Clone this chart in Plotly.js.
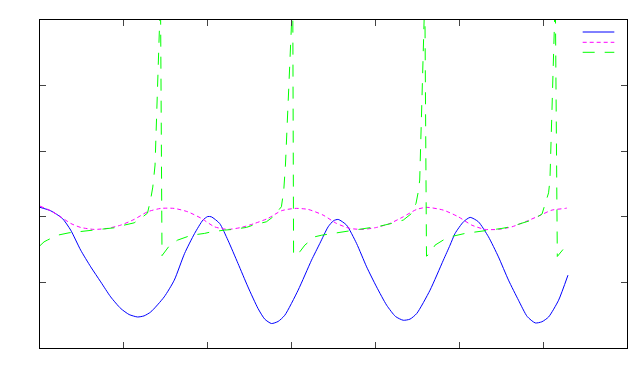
<!DOCTYPE html>
<html>
<head>
<meta charset="utf-8">
<script src="https://cdn.plot.ly/plotly-3.0.1.min.js"></script>
<style>
  html, body { margin: 0; padding: 0; background: #fff; }
  #plot { width: 638px; height: 384px; }
</style>
</head>
<body>
<div id="plot"></div>
<script>
// solid blue curve
var blueX = [0.0, 0.127, 0.266, 0.366, 0.485, 0.605, 0.724, 0.843, 0.963, 1.063, 1.163, 1.241, 1.321, 1.481, 1.601,
             1.724, 1.844, 1.943, 2.000, 2.043, 2.142, 2.241, 2.361, 2.480, 2.600, 2.680, 2.760, 2.840, 2.919, 3.078, 3.238,
             3.337, 3.436, 3.500, 3.556, 3.656, 3.775, 3.895, 4.014, 4.134, 4.240, 4.332, 4.412, 4.492, 4.651, 4.810, 4.890,
             4.950, 5.050, 5.130, 5.228, 5.348, 5.467, 5.587, 5.706, 5.810, 5.906, 5.985, 6.065, 6.184, 6.296];
var blueY = [0.144, 0.092, -0.024, -0.203, -0.508, -0.763, -0.992, -1.221, -1.398, -1.490, -1.527, -1.510, -1.450, -1.221, -0.966,
             -0.559, -0.253, -0.050, 0.004, 0.000, -0.101, -0.356, -0.711, -1.069, -1.398, -1.560, -1.627, -1.595, -1.501, -1.119, -0.661,
             -0.406, -0.153, -0.060, -0.040, -0.127, -0.406, -0.763, -1.069, -1.348, -1.520, -1.577, -1.560, -1.475, -1.119, -0.661, -0.432,
             -0.253, -0.076, -0.009, -0.076, -0.305, -0.611, -0.966, -1.272, -1.520, -1.618, -1.600, -1.527, -1.272, -0.890];

// short-dash magenta curve
var magX = [0.0, 0.127, 0.246, 0.366, 0.485, 0.645, 0.804, 0.963, 1.123, 1.282, 1.441, 1.601, 1.763,
            1.924, 2.082, 2.241, 2.401, 2.560, 2.719, 2.879, 3.038, 3.197, 3.376, 3.536, 3.695, 3.854,
            4.014, 4.173, 4.332, 4.492, 4.612, 4.810, 4.989, 5.149, 5.308, 5.467, 5.627, 5.786, 5.945,
            6.105, 6.264, 6.282];
var magY = [0.163, 0.092, 0.000, -0.101, -0.162, -0.192, -0.177, -0.127, -0.040, 0.076, 0.128, 0.128, 0.076,
            -0.024, -0.153, -0.192, -0.162, -0.101, -0.024, 0.092, 0.128, 0.113, 0.026, -0.101, -0.177, -0.192,
            -0.162, -0.101, 0.000, 0.113, 0.144, 0.102, 0.000, -0.127, -0.192, -0.192, -0.153, -0.076, 0.011,
            0.102, 0.128, 0.133];

// long-dash green curve (shoots off the top near each pole)
var greenX = [0.000, 0.048, 0.087, 0.207, 0.346, 0.466, 0.625, 0.744, 0.924, 1.004, 1.123, 1.202, 1.282,
              1.318, 1.345, 1.372, 1.437,
              1.455, 1.545, 1.640, 1.804, 1.963, 2.043, 2.202, 2.301, 2.461, 2.540, 2.700, 2.779, 2.879,
              2.907, 2.927, 3.014,
              3.024, 3.098, 3.158, 3.238, 3.277, 3.357, 3.536, 3.675, 3.795, 3.955, 4.054, 4.194, 4.332,
              4.432, 4.484, 4.511, 4.528, 4.589,
              4.609, 4.651, 4.711, 4.831, 4.891, 5.070, 5.228, 5.348, 5.508, 5.607, 5.747, 5.866, 5.986,
              6.025, 6.065, 6.081, 6.145,
              6.169, 6.244, 6.294];
var greenY = [-0.440, -0.382, -0.356, -0.281, -0.244, -0.229, -0.203, -0.188, -0.162, -0.127, -0.092, -0.024, 0.056,
              0.255, 0.453, 0.789, 3.385,
              -0.592, -0.437, -0.356, -0.281, -0.253, -0.229, -0.203, -0.192, -0.162, -0.127, -0.076, 0.000, 0.153,
              0.408, 0.789, 3.385,
              -0.592, -0.534, -0.432, -0.356, -0.305, -0.281, -0.244, -0.214, -0.192, -0.162, -0.142, -0.101, -0.050,
              0.052, 0.205, 0.382, 0.560, 3.385,
              -0.600, -0.559, -0.432, -0.337, -0.305, -0.253, -0.229, -0.203, -0.177, -0.153, -0.101, -0.050, 0.041,
              0.205, 0.366, 0.560, 3.385,
              -0.605, -0.482, -0.409];

var xRange = [0, 7];
var yRange = [-2, 3];

var data = [
  {x: blueX, y: blueY, mode: "lines", name: " ",
   line: {color: "#0000ff", width: 1, shape: "spline", smoothing: 0.6}},
  {x: magX, y: magY, mode: "lines", name: " ",
   line: {color: "#ff00ff", width: 1, dash: "4px,3px", shape: "spline", smoothing: 0.6}},
  {x: greenX, y: greenY, mode: "lines", name: " ",
   line: {color: "#00ff00", width: 1, dash: "12px,10px"}}
];

// key samples in the top right corner (no labels in the original)
function keyLine(y, color, dash) {
  return {type: "line", xref: "paper", yref: "paper", x0: 0.9245, x1: 0.9784, y0: y, y1: y,
          line: {color: color, width: 1, dash: dash}};
}

var axisStyle = {
  showline: true, linecolor: "#000", linewidth: 1, mirror: "ticks",
  ticks: "inside", ticklen: 6, tickwidth: 1, tickcolor: "#444",
  showticklabels: false, showgrid: false, zeroline: false, dtick: 1, tick0: 0
};

var layout = {
  width: 638, height: 384,
  margin: {l: 40, r: 11, t: 20, b: 36},
  paper_bgcolor: "#fff", plot_bgcolor: "#fff",
  showlegend: false,
  xaxis: Object.assign({range: xRange}, axisStyle),
  yaxis: Object.assign({range: yRange}, axisStyle),
  shapes: [
    keyLine(0.9634, "#0000ff", "solid"),
    keyLine(0.9320, "#ff00ff", "4px,3px"),
    keyLine(0.9015, "#00ff00", "12px,10px")
  ]
};

Plotly.newPlot("plot", data, layout, {staticPlot: true});
</script>
</body>
</html>
